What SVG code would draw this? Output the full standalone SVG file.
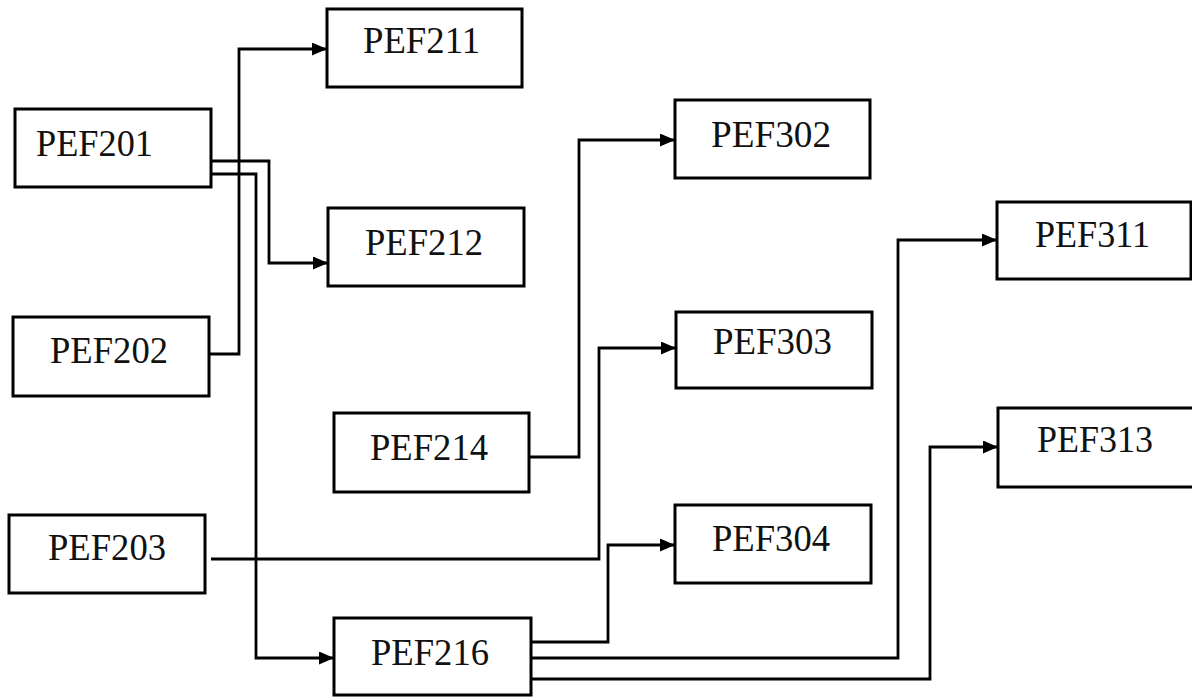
<svg xmlns="http://www.w3.org/2000/svg" width="1192" height="697" viewBox="0 0 1192 697">
<style>
.box{fill:#fff;stroke:#000;stroke-width:3}
.lbl{font-family:"Liberation Serif","Times New Roman",serif;font-size:38px;fill:#111}
.wire{fill:none;stroke:#000;stroke-width:2.8}
</style>
<defs>
<marker id="ah" markerUnits="userSpaceOnUse" markerWidth="17" markerHeight="14" refX="15" refY="6.5" orient="auto">
<path d="M0,0 L15,6.5 L0,13 z" fill="#000"/>
</marker>
</defs>
<rect width="1192" height="697" fill="#fff"/>
<g id="connectors">
<path class="wire" d="M207,354 H239 V49 H327" marker-end="url(#ah)"/>
<path class="wire" d="M211,161 H269 V263 H328" marker-end="url(#ah)"/>
<path class="wire" d="M211,174 H256 V658 H334" marker-end="url(#ah)"/>
<path class="wire" d="M529,457 H579 V140 H675" marker-end="url(#ah)"/>
<path class="wire" d="M211,559 H599 V348 H676" marker-end="url(#ah)"/>
<path class="wire" d="M531,642 H608 V545 H675" marker-end="url(#ah)"/>
<path class="wire" d="M531,658 H898 V240 H997" marker-end="url(#ah)"/>
<path class="wire" d="M531,679 H930 V447 H998" marker-end="url(#ah)"/>
</g>
<g id="PEF201"><rect class="box" x="15" y="109" width="196" height="78"/><text class="lbl" x="36" y="156" textLength="117" lengthAdjust="spacingAndGlyphs">PEF201</text></g>
<g id="PEF202"><rect class="box" x="13" y="317" width="196" height="79"/><text class="lbl" x="50" y="363" textLength="118" lengthAdjust="spacingAndGlyphs">PEF202</text></g>
<g id="PEF203"><rect class="box" x="9" y="515" width="196" height="78"/><text class="lbl" x="48" y="560" textLength="118" lengthAdjust="spacingAndGlyphs">PEF203</text></g>
<g id="PEF211"><rect class="box" x="327" y="9" width="195" height="78"/><text class="lbl" x="363" y="53" textLength="117" lengthAdjust="spacingAndGlyphs">PEF211</text></g>
<g id="PEF212"><rect class="box" x="328" y="208" width="196" height="78"/><text class="lbl" x="365" y="255" textLength="118" lengthAdjust="spacingAndGlyphs">PEF212</text></g>
<g id="PEF214"><rect class="box" x="334" y="413" width="195" height="79"/><text class="lbl" x="370" y="460" textLength="118" lengthAdjust="spacingAndGlyphs">PEF214</text></g>
<g id="PEF216"><rect class="box" x="334" y="618" width="197" height="77"/><text class="lbl" x="371" y="665" textLength="118" lengthAdjust="spacingAndGlyphs">PEF216</text></g>
<g id="PEF302"><rect class="box" x="675" y="100" width="195" height="78"/><text class="lbl" x="711" y="147" textLength="120" lengthAdjust="spacingAndGlyphs">PEF302</text></g>
<g id="PEF303"><rect class="box" x="676" y="312" width="196" height="76"/><text class="lbl" x="713" y="354" textLength="119" lengthAdjust="spacingAndGlyphs">PEF303</text></g>
<g id="PEF304"><rect class="box" x="675" y="505" width="196" height="78"/><text class="lbl" x="712" y="551" textLength="118" lengthAdjust="spacingAndGlyphs">PEF304</text></g>
<g id="PEF311"><rect class="box" x="997" y="202" width="194" height="77"/><text class="lbl" x="1035" y="247" textLength="115" lengthAdjust="spacingAndGlyphs">PEF311</text></g>
<g id="PEF313"><rect class="box" x="998" y="408" width="196" height="79"/><text class="lbl" x="1037" y="452" textLength="116" lengthAdjust="spacingAndGlyphs">PEF313</text></g>
</svg>
